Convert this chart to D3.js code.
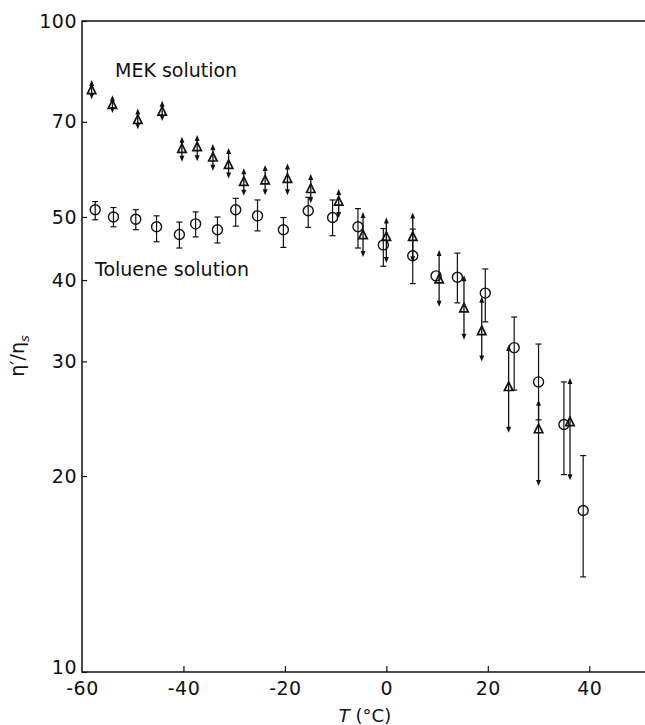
<!DOCTYPE html>
<html>
<head>
<meta charset="utf-8">
<script src="https://cdn.jsdelivr.net/npm/d3@7"></script>
<style>
  html, body { margin: 0; padding: 0; background: #fff; }
  svg { display: block; }
  text { font-family: "DejaVu Sans", sans-serif; fill: #111; }
</style>
</head>
<body>
<svg id="chart" width="645" height="725"></svg>
<script>
// ---- data ----
const xTicks = [-60, -40, -20, 0, 20, 40];
const yTicks = [10, 20, 30, 40, 50, 70, 100];

// Toluene solution (open circles), value with error-bar ends
const tolT   = [-57.4, -53.8, -49.4, -45.3, -40.8, -37.6, -33.3, -29.7, -25.4, -20.3, -15.4, -10.6, -5.6, -0.6, 5.2, 9.8, 14.0, 19.5, 25.2, 30.0, 35.0, 38.8];
const tolEta = [51.3, 50.0, 49.6, 48.3, 47.0, 48.8, 47.8, 51.3, 50.2, 47.8, 51.1, 49.9, 48.3, 45.3, 43.6, 40.6, 40.4, 38.2, 31.5, 27.9, 24.0, 17.7];
const tolLo  = [49.5, 48.3, 47.8, 45.8, 44.8, 46.6, 45.6, 48.4, 47.6, 44.9, 48.2, 46.8, 44.8, 42.0, 39.5, null, 36.9, 34.5, 27.1, 24.4, 20.1, 14.0];
const tolHi  = [52.8, 51.7, 51.3, 50.2, 49.1, 50.9, 50.0, 53.4, 53.1, 49.9, 53.6, 53.1, 51.5, 48.0, 47.9, null, 44.0, 41.6, 35.1, 31.9, 27.9, 21.5];

// MEK solution (open triangles), value with arrow-bar ends
const mekT   = [-58.1, -54.0, -49.0, -44.2, -40.3, -37.3, -34.2, -31.1, -28.1, -23.9, -19.5, -14.9, -9.4, -4.6, 0.0, 5.2, 10.4, 15.3, 18.8, 24.1, 30.0, 36.2];
const mekEta = [78.3, 74.3, 70.5, 72.6, 63.6, 64.0, 61.7, 60.1, 56.6, 56.9, 57.2, 55.2, 52.8, 46.9, 46.6, 46.6, 40.1, 36.2, 33.4, 27.4, 23.6, 24.2];
const mekLo  = [75.8, 72.2, 68.2, 70.2, 60.8, 60.9, 58.9, 57.3, 53.9, 54.0, 54.0, 52.5, 49.8, 43.4, 42.5, 42.6, 36.4, 32.4, 30.0, 23.3, 19.3, 19.7];
const mekHi  = [81.2, 76.9, 73.4, 75.4, 66.4, 66.8, 64.7, 63.8, 59.4, 60.1, 60.4, 58.2, 55.2, 50.9, 49.9, 50.8, 44.5, 40.7, 37.7, 31.8, 26.2, 28.3];

// ---- drawing ----
const svg = d3.select("#chart");
const x = d3.scaleLinear().domain([-60, 50]).range([82, 640]);
const y = d3.scaleLog().domain([10, 100]).range([672, 21]);

const ink = "#111";

// frame (top, left, bottom)
svg.append("path")
  .attr("d", `M645,${y(100)} H${x(-60)} V${y(10)} H645`)
  .attr("fill", "none").attr("stroke", ink).attr("stroke-width", 1.5);

// y axis
const yAxis = svg.append("g").attr("transform", `translate(${x(-60)},0)`)
  .call(d3.axisLeft(y).tickValues(yTicks).tickFormat(d3.format("d"))
    .tickSizeInner(-5).tickSizeOuter(0).tickPadding(5));
yAxis.select(".domain").remove();
yAxis.selectAll("line").attr("stroke", ink).attr("stroke-width", 1.2);
yAxis.selectAll("text").attr("font-size", 19).attr("font-family", "DejaVu Sans").attr("letter-spacing", 0.5).attr("fill", ink);
yAxis.selectAll(".tick").filter(d => d === 10).select("text").attr("dy", "0.1em");

// x axis
const xAxis = svg.append("g").attr("transform", `translate(0,${y(10)})`)
  .call(d3.axisBottom(x).tickValues(xTicks).tickFormat(d => d < 0 ? "-" + Math.abs(d) : d)
    .tickSizeInner(-6).tickSizeOuter(0).tickPadding(10));
xAxis.select(".domain").remove();
xAxis.selectAll("line").attr("stroke", ink).attr("stroke-width", 1.2);
xAxis.selectAll(".tick").filter(d => d === -60).select("line").remove();
xAxis.selectAll("text").attr("font-size", 19).attr("font-family", "DejaVu Sans").attr("letter-spacing", 0.5).attr("fill", ink)
  .attr("dy", "0.7em");

// axis titles
const xt = svg.append("text").attr("x", 365).attr("y", 722).attr("text-anchor", "middle").attr("font-size", 18);
xt.append("tspan").attr("font-style", "italic").text("T");
xt.append("tspan").text(" (°C)");

const yt = svg.append("text").attr("transform", "translate(24,356) rotate(-90)")
  .attr("text-anchor", "middle").attr("font-size", 19);
yt.append("tspan").text("η′/η");
yt.append("tspan").attr("font-size", 13).attr("font-style", "italic").attr("dy", 5).text("s");

// series labels
svg.append("text").attr("x", 115).attr("y", 77).attr("font-size", 19).text("MEK solution");
svg.append("text").attr("x", 95).attr("y", 276).attr("font-size", 19).text("Toluene solution");

// toluene error bars (capped)
const tol = tolT.map((t, i) => ({t, v: tolEta[i], lo: tolLo[i], hi: tolHi[i]}));
const gTol = svg.append("g");
tol.filter(d => d.lo !== null).forEach(d => {
  const cx = x(d.t);
  gTol.append("line").attr("x1", cx).attr("x2", cx).attr("y1", y(d.hi)).attr("y2", y(d.lo))
    .attr("stroke", ink).attr("stroke-width", 1.2);
  [d.hi, d.lo].forEach(e => {
    gTol.append("line").attr("x1", cx - 3).attr("x2", cx + 3).attr("y1", y(e)).attr("y2", y(e))
      .attr("stroke", ink).attr("stroke-width", 1.2);
  });
});
gTol.selectAll("circle").data(tol).join("circle")
  .attr("cx", d => x(d.t)).attr("cy", d => y(d.v)).attr("r", 5)
  .attr("fill", "none").attr("stroke", ink).attr("stroke-width", 1.4);

// MEK error bars (arrows)
const mek = mekT.map((t, i) => ({t, v: mekEta[i], lo: mekLo[i], hi: mekHi[i]}));
const gMek = svg.append("g");
mek.forEach(d => {
  const cx = x(d.t), yh = y(d.hi), yl = y(d.lo);
  gMek.append("line").attr("x1", cx).attr("x2", cx).attr("y1", yh + 3).attr("y2", yl - 3)
    .attr("stroke", ink).attr("stroke-width", 1.3);
  gMek.append("path").attr("d", `M${cx},${yh} L${cx - 2.5},${yh + 6} L${cx + 2.5},${yh + 6} Z`).attr("fill", ink);
  gMek.append("path").attr("d", `M${cx},${yl} L${cx - 2.5},${yl - 6} L${cx + 2.5},${yl - 6} Z`).attr("fill", ink);
});
gMek.selectAll("path.tri").data(mek).join("path").attr("class", "tri")
  .attr("d", d => { const cx = x(d.t), cy = y(d.v); return `M${cx},${cy - 5} L${cx - 4.2},${cy + 3.5} L${cx + 4.2},${cy + 3.5} Z`; })
  .attr("fill", "none").attr("stroke", ink).attr("stroke-width", 1.7).attr("stroke-linejoin", "miter");
</script>
</body>
</html>
